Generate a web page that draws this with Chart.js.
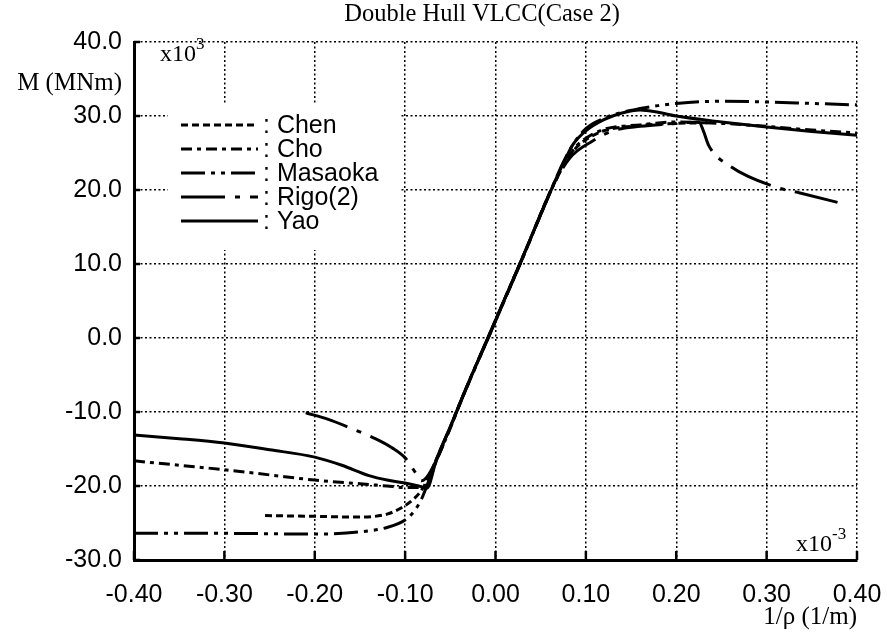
<!DOCTYPE html>
<html>
<head>
<meta charset="utf-8">
<script src="https://cdn.jsdelivr.net/npm/chart.js@4.4.1/dist/chart.umd.min.js"></script>
<style>
  body { margin: 0; background: #fff; }
</style>
</head>
<body>
<canvas id="bendChart" width="887" height="632"></canvas>
<script>
// curvature 1/rho (x10^-3 1/m) vs bending moment M (x10^3 MNm)
const xTicks = [-0.4, -0.3, -0.2, -0.1, 0.0, 0.1, 0.2, 0.3, 0.4];
const yTicks = [-30, -20, -10, 0, 10, 20, 30, 40];

const seriesNames = ['Chen', 'Cho', 'Masaoka', 'Rigo(2)', 'Yao'];

const chenX = [-0.255, -0.20, -0.15, -0.12, -0.105, -0.09, -0.080, -0.065, -0.05, -0.036, -0.006, 0.030, 0.064, 0.075, 0.09, 0.10, 0.12, 0.16, 0.20, 0.235];
const chenY = [-24.0, -24.1, -24.2, -23.8, -23.0, -21.7, -20.2, -16.3, -12.0, -7.8, 0.7, 10.9, 20.7, 23.2, 25.8, 26.8, 28.0, 28.7, 29.0, 29.1];

const choX = [-0.40, -0.35, -0.30, -0.25, -0.20, -0.15, -0.12, -0.10, -0.085, -0.076, -0.065, -0.05, -0.036, -0.006, 0.030, 0.064, 0.075, 0.09, 0.10, 0.12, 0.16, 0.20, 0.25, 0.30, 0.35, 0.40];
const choY = [-16.6, -17.2, -17.8, -18.5, -19.2, -19.7, -20.0, -20.2, -20.2, -19.8, -16.5, -12.2, -7.9, 0.6, 10.8, 20.6, 23.3, 26.0, 27.0, 28.2, 28.8, 29.2, 29.0, 28.6, 28.1, 27.7];

const masaokaX = [-0.40, -0.30, -0.20, -0.15, -0.12, -0.10, -0.09, -0.082, -0.076, -0.065, -0.05, -0.036, -0.006, 0.030, 0.064, 0.074, 0.085, 0.10, 0.12, 0.14, 0.16, 0.18, 0.20, 0.25, 0.30, 0.35, 0.40];
const masaokaY = [-26.4, -26.4, -26.5, -26.2, -25.6, -24.6, -23.4, -21.8, -20.0, -16.3, -12.0, -7.8, 0.7, 10.9, 20.7, 23.5, 26.0, 28.3, 29.7, 30.5, 31.0, 31.4, 31.7, 32.0, 31.9, 31.7, 31.5];

const rigoX = [-0.21, -0.185, -0.16, -0.133, -0.115, -0.10, -0.088, -0.082, -0.076, -0.065, -0.05, -0.036, -0.006, 0.030, 0.064, 0.082, 0.107, 0.13, 0.16, 0.20, 0.225, 0.230, 0.236, 0.26, 0.31, 0.337, 0.386];
const rigoY = [-10.1, -11.0, -12.2, -13.6, -14.8, -16.2, -18.3, -19.3, -18.8, -16.4, -12.1, -7.9, 0.6, 10.8, 20.6, 24.3, 26.6, 28.0, 28.6, 29.0, 29.2, 28.0, 26.0, 23.2, 20.4, 19.6, 18.1];

const yaoX = [-0.40, -0.35, -0.30, -0.25, -0.20, -0.17, -0.14, -0.12, -0.10, -0.085, -0.076, -0.065, -0.05, -0.036, -0.006, 0.030, 0.064, 0.075, 0.086, 0.10, 0.12, 0.14, 0.16, 0.18, 0.20, 0.25, 0.30, 0.35, 0.40];
const yaoY = [-13.1, -13.6, -14.2, -15.1, -16.1, -17.2, -18.6, -19.2, -19.6, -20.0, -20.3, -16.3, -12.0, -7.8, 0.7, 10.9, 20.7, 23.6, 26.2, 28.0, 29.5, 30.4, 30.8, 30.5, 30.0, 29.2, 28.5, 27.9, 27.4];

const dashes = [[7, 4], [11, 5, 4, 5], [24, 6, 4, 6, 4, 6], [44, 10, 5, 10], []];

const sans = "'Liberation Sans', Arial, sans-serif";
const serif = "'Liberation Serif', 'Times New Roman', serif";

function toPoints(xs, ys) {
  return xs.map((x, i) => ({ x: x, y: ys[i] }));
}

const allX = [chenX, choX, masaokaX, rigoX, yaoX];
const allY = [chenY, choY, masaokaY, rigoY, yaoY];

const datasets = seriesNames.map((name, i) => ({
  label: name,
  data: toPoints(allX[i], allY[i]),
  showLine: true,
  borderColor: '#000',
  borderWidth: 3,
  borderDash: dashes[i],
  pointRadius: 0,
  cubicInterpolationMode: 'monotone',
}));

// legend, inner ticks and the loose text labels
const annotate = {
  id: 'annotate',
  beforeDatasetsDraw(chart) {
    const c = chart.ctx;
    c.save();
    c.fillStyle = '#fff';
    c.fillRect(168, 104, 232, 146);
    c.restore();
  },
  afterDraw(chart) {
    const c = chart.ctx;
    const { left, bottom } = chart.chartArea;
    const xs = chart.scales.x, ys = chart.scales.y;
    c.save();
    c.strokeStyle = '#000';
    c.lineWidth = 2.5;
    xTicks.forEach(v => {
      const px = xs.getPixelForValue(v);
      c.beginPath(); c.moveTo(px, bottom); c.lineTo(px, bottom - 9); c.stroke();
    });
    yTicks.forEach(v => {
      const py = ys.getPixelForValue(v);
      c.beginPath(); c.moveTo(left, py); c.lineTo(left + 6, py); c.stroke();
    });

    // legend
    seriesNames.forEach((name, i) => {
      const y = 125 + i * 24;
      c.lineWidth = 3;
      c.setLineDash(dashes[i]);
      c.beginPath(); c.moveTo(181, y); c.lineTo(258, y); c.stroke();
      c.setLineDash([]);
      c.fillStyle = '#000';
      c.font = '25px ' + sans;
      c.textAlign = 'left';
      c.textBaseline = 'middle';
      c.fillText(': ' + name, 263, y + 1);
    });

    c.fillStyle = '#000';
    c.textBaseline = 'alphabetic';
    c.font = '24.5px ' + serif;
    c.textAlign = 'center';
    c.fillText('Double Hull VLCC(Case 2)', 482, 21);
    c.textAlign = 'right';
    c.font = '25px ' + serif;
    c.fillText('M (MNm)', 122, 90);
    c.fillText('1/\u03c1 (1/m)', 857, 624);

    // exponent markers
    c.textAlign = 'left';
    c.font = '24px ' + serif;
    c.fillText('x10', 160, 61);
    c.font = '17px ' + serif;
    c.fillText('3', 196, 49);
    c.font = '24px ' + serif;
    c.fillText('x10', 796, 551);
    c.font = '17px ' + serif;
    c.fillText('-3', 832, 539);
    c.restore();
  }
};

new Chart(document.getElementById('bendChart'), {
  type: 'scatter',
  data: { datasets: datasets },
  options: {
    responsive: false,
    animation: false,
    layout: { padding: { top: 42, right: 30, left: 0, bottom: 0 } },
    plugins: {
      legend: { display: false },
      tooltip: { enabled: false },
    },
    scales: {
      x: {
        type: 'linear',
        min: -0.4,
        max: 0.4,
        afterBuildTicks: scale => { scale.ticks = xTicks.map(v => ({ value: v })); },
        afterFit: scale => { scale.height = 72; scale.paddingLeft = 0; scale.paddingRight = 0; },
        ticks: {
          color: '#000',
          font: { family: sans, size: 25 },
          padding: 20,
          maxRotation: 0,
          callback: v => (Math.abs(v) < 1e-9 ? 0 : v).toFixed(2),
        },
        grid: { color: '#000', lineWidth: 1.5, drawTicks: false },
        border: { display: true, color: '#000', width: 3, dash: [2, 2.5] },
      },
      y: {
        type: 'linear',
        min: -30,
        max: 40,
        afterBuildTicks: scale => { scale.ticks = yTicks.map(v => ({ value: v })); },
        afterFit: scale => { scale.width = 134; scale.paddingTop = 0; scale.paddingBottom = 0; },
        ticks: {
          color: '#000',
          font: { family: sans, size: 25 },
          padding: 12,
          callback: v => (Math.abs(v) < 1e-9 ? 0 : v).toFixed(1),
        },
        grid: { color: '#000', lineWidth: 1.5, drawTicks: false },
        border: { display: true, color: '#000', width: 3, dash: [2, 2.5] },
      },
    },
  },
  plugins: [annotate],
});
</script>
</body>
</html>
